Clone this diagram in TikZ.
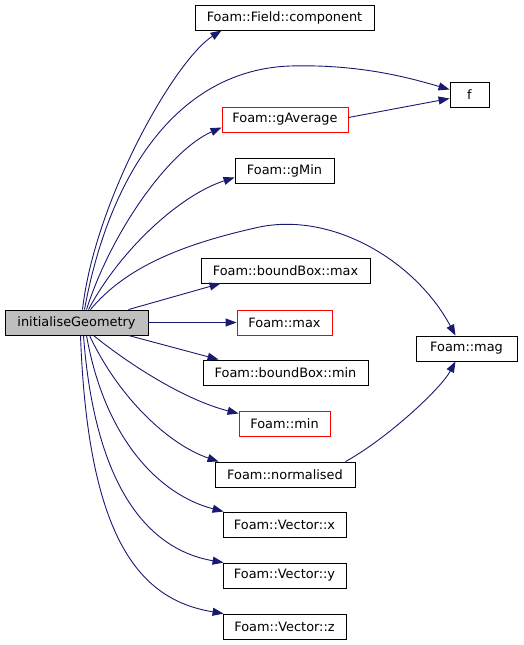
\documentclass[tikz,border=0pt]{standalone}
\usepackage{fontspec}
\setmainfont{DejaVu Sans}
\usetikzlibrary{arrows.meta,calc}
\definecolor{midnight}{HTML}{191970}
\definecolor{rootgray}{HTML}{BFBFBF}

\begin{document}
\begin{tikzpicture}[x=1pt, y=-1pt,
  fn/.style={draw=black, line width=0.9pt, minimum height=25pt, inner sep=0pt,
    font=\fontsize{12.9}{15}\selectfont},
  root/.style={fn, fill=rootgray},
  trunc/.style={fn, draw=red},
  call/.style={draw=midnight, line width=0.9pt, -{Triangle[length=11pt,width=8pt]}}
]
\useasboundingbox (0,0) rectangle (523,645);

% caller
\node[root, minimum width=143pt] (init) at (76.5,322.5) {initialiseGeometry};

% callees
\node[fn, minimum width=179pt] (comp) at (284.5,17.5) {Foam::Field::component};
\node[fn, minimum width=39pt] (f) at (469.5,94.5) {f};
\node[trunc, minimum width=126pt] (gavg) at (285,119.5) {Foam::gAverage};
\node[fn, minimum width=99pt] (gmin) at (284.5,170.5) {Foam::gMin};
\node[fn, minimum width=169pt] (bbmax) at (285.5,270.5) {Foam::boundBox::max};
\node[trunc, minimum width=95pt] (max) at (284.5,322.5) {Foam::max};
\node[fn, minimum width=165pt] (bbmin) at (285.5,372.5) {Foam::boundBox::min};
\node[trunc, minimum width=91pt] (min) at (284.5,423.5) {Foam::min};
\node[fn, minimum width=140pt] (norm) at (285,474.5) {Foam::normalised};
\node[fn, minimum width=101pt] (mag) at (466.5,348.5) {Foam::mag};
\foreach \n/\y/\c in {vx/524.5/x, vy/575.5/y, vz/626.5/z}
  \node[fn, minimum width=123pt] (\n) at (284.5,\y) {Foam::Vector::\c};

% calls
\draw[call] ($(init.north)+(6,0)$) .. controls (95,200) and (175,60) .. ($(comp.south west)+(27,0)$);
\draw[call] ($(init.north)+(8,0)$) .. controls (110,170) and (180,70) .. (290,66)
  .. controls (360,64) and (410,78) .. ($(f.west)+(0,-5)$);
\draw[call] ($(gavg.east)+(0,-2)$) -- ($(f.west)+(0,4)$);
\draw[call] ($(init.north)+(10,0)$) .. controls (112,230) and (170,150) .. ($(gavg.west)+(0,8)$);
\draw[call] ($(init.north)+(12,0)$) .. controls (120,250) and (180,195) .. ($(gmin.west)+(0,7)$);
\draw[call] ($(init.north)+(14,0)$) .. controls (125,268) and (180,245) .. (255,228)
  .. controls (330,210) and (415,260) .. ($(mag.north)+(-11,0)$);
\draw[call] ($(init.north east)+(-20,0)$) -- ($(bbmax.south west)+(20,0)$);
\draw[call] (init.east) -- (max.west);
\draw[call] ($(init.south east)+(-20,0)$) -- ($(bbmin.north west)+(16,0)$);
\draw[call] ($(init.south)+(17,0)$) .. controls (130,365) and (185,400) .. ($(min.west)+(0,-10)$);
\draw[call] ($(init.south)+(13,0)$) .. controls (120,400) and (170,445) .. ($(norm.north west)+(4,0)$);
\draw[call] ($(norm.north east)+(-10,0)$) .. controls (385,440) and (440,390) .. ($(mag.south)+(-11,0)$);
\foreach \n/\s/\ax/\ay/\bx/\by in {vx/10/105/440/160/495, vy/7/95/490/150/550, vz/4/88/540/140/600}
  \draw[call] ($(init.south)+(\s,0)$) .. controls (\ax,\ay) and (\bx,\by) .. ($(\n.north west)+(1,0)$);
\end{tikzpicture}
\end{document}
